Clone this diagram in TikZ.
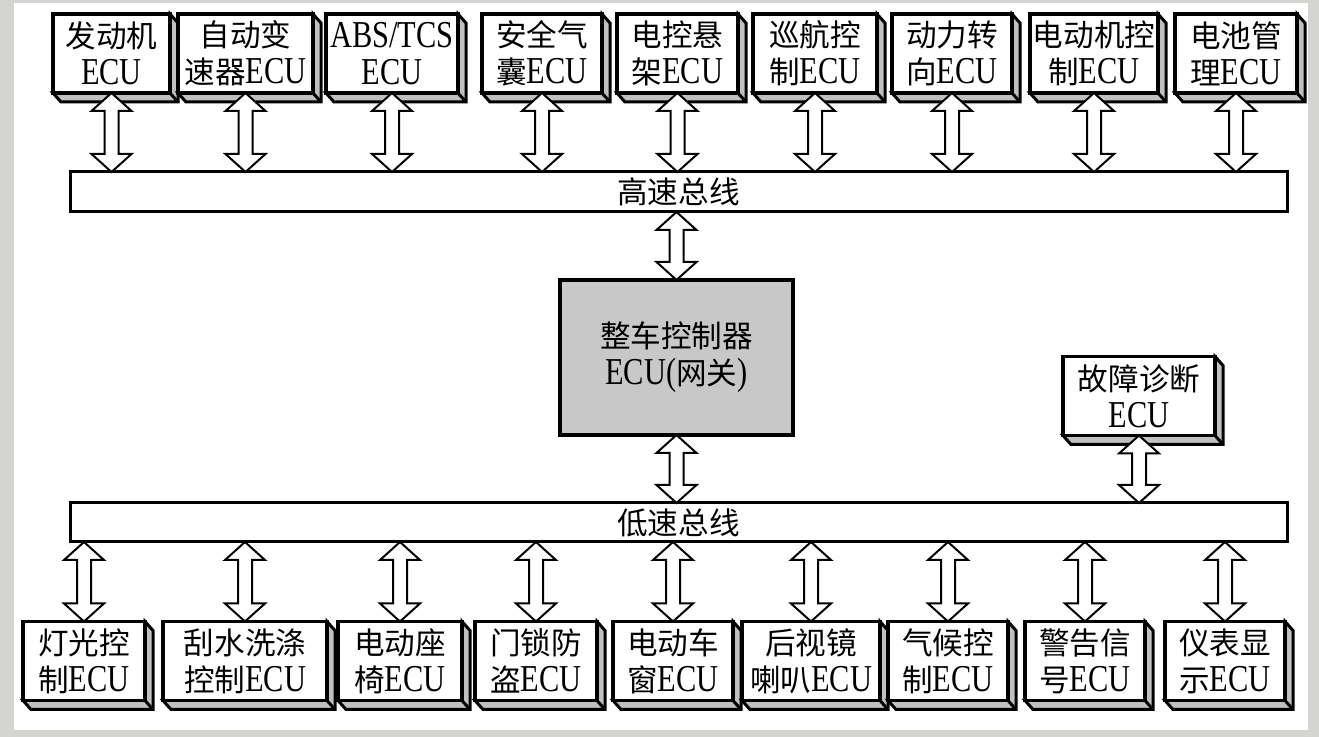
\documentclass[tikz,border=0pt]{standalone}
\usepackage{fontspec}
\setmainfont{Liberation Serif}[FakeStretch=0.8]
\newfontfamily\cjkfont{Noto Sans CJK SC}[Scale=0.805]
\newcommand\zh[1]{{\cjkfont #1}}
\usetikzlibrary{calc}
\pgfdeclarelayer{framelayer}
\pgfdeclarelayer{extlayer}
\pgfsetlayers{framelayer,extlayer,main}
\definecolor{framegray}{RGB}{212,212,208}
\definecolor{sidegray}{RGB}{192,192,192}
\definecolor{ecugray}{RGB}{200,200,200}
\tikzset{
 ecubox/.style={draw, line width=1.7pt, fill=white, inner sep=0pt, outer sep=0pt, align=center,
   font=\fontsize{19pt}{18.5pt}\selectfont, minimum height=39.5pt},
 busbox/.style={draw, line width=1.5pt, fill=white, inner sep=0pt, outer sep=0pt,
   minimum width=608.5pt, minimum height=20pt, font=\fontsize{19pt}{18.5pt}\selectfont},
 gateway/.style={ecubox, fill=ecugray, line width=2pt, minimum width=116.5pt, minimum height=77.5pt},
 extr/.style={fill=sidegray, draw, line width=1.5pt, line join=miter},
 barrow/.style={draw, fill=white, line width=1pt, line join=miter},
}
\newcommand\dbar[2]{%
  \draw[barrow] let \p1=(#1), \p2=(#2) in
  (\x1,\y1) -- (\x1+10pt,\y1-9pt) -- (\x1+3.5pt,\y1-9pt) -- (\x1+3.5pt,\y2+9pt)
  -- (\x1+10pt,\y2+9pt) -- (\x1,\y2) -- (\x1-10pt,\y2+9pt) -- (\x1-3.5pt,\y2+9pt)
  -- (\x1-3.5pt,\y1-9pt) -- (\x1-10pt,\y1-9pt) -- cycle;}
\begin{document}
\begin{tikzpicture}[x=0.5pt,y=-0.5pt]
\useasboundingbox (0,0) rectangle (1319,737);
\begin{pgfonlayer}{framelayer}
  \fill[framegray] (0,0) rectangle (1319,737);
  \fill[white] (14,3) rectangle (1308,730);
\end{pgfonlayer}
% top row ECUs
\foreach \n/\c/\w/\txt in {
  t1/111.5/117/{\zh{发动机}\\ECU},
  t2/245.5/135/{\zh{自动变}\\\zh{速器}ECU},
  t3/392/132/{ABS/TCS\\ECU},
  t4/542/120/{\zh{安全气}\\\zh{囊}ECU},
  t5/677.5/121/{\zh{电控悬}\\\zh{架}ECU},
  t6/815/124/{\zh{巡航控}\\\zh{制}ECU},
  t7/952/120/{\zh{动力转}\\\zh{向}ECU},
  t8/1094/128/{\zh{电动机控}\\\zh{制}ECU},
  t9/1236/122/{\zh{电池管}\\\zh{理}ECU}}
  {\node[ecubox, minimum width=\w*0.5pt] (\n) at (\c,53.5) {\txt};}
% bottom row ECUs
\foreach \n/\c/\w/\txt in {
  b1/84/122/{\zh{灯光控}\\\zh{制}ECU},
  b2/245/164/{\zh{刮水洗涤}\\\zh{控制}ECU},
  b3/400/124/{\zh{电动座}\\\zh{椅}ECU},
  b4/536/122/{\zh{门锁防}\\\zh{盗}ECU},
  b5/673/120/{\zh{电动车}\\\zh{窗}ECU},
  b6/811/138/{\zh{后视镜}\\\zh{喇叭}ECU},
  b7/948/120/{\zh{气候控}\\\zh{制}ECU},
  b8/1085/120/{\zh{警告信}\\\zh{号}ECU},
  b9/1225/120/{\zh{仪表显}\\\zh{示}ECU}}
  {\node[ecubox, minimum width=\w*0.5pt] (\n) at (\c,661) {\txt};}
% fault diagnosis
\node[ecubox, minimum width=76pt] (fd) at (1139,396) {\zh{故障诊断}\\ECU};
% gateway
\node[gateway] (gw) at (676.5,357.5) {\zh{整车控制器}\\ECU(\zh{网关})};
% buses
\node[busbox] (hb) at (678.5,192) {\zh{高速总线}};
\node[busbox, minimum height=19.5pt] (lb) at (678.5,522.5) {\zh{低速总线}};
% 3D sides
\begin{pgfonlayer}{extlayer}
\foreach \n in {t1,t2,t3,t4,t5,t6,t7,t8,t9,b1,b2,b3,b4,b5,b6,b7,b8,b9,fd}{
  \filldraw[extr] (\n.north east) -- ++(8,9) -- ($(\n.south east)+(8,9)$)
     -- ($(\n.south west)+(8,9)$) -- (\n.south west) -- (\n.south east) -- cycle;
  \draw[extr, fill=none] (\n.south east) -- ++(8,9);
}
\end{pgfonlayer}
% connectors
\foreach \i in {1,...,9}{
  \dbar{t\i.south}{t\i.south |- hb.north}
  \dbar{b\i.north |- lb.south}{b\i.north}
}
\dbar{gw.north |- hb.south}{gw.north}
\dbar{gw.south}{gw.south |- lb.north}
\dbar{fd.south}{fd.south |- lb.north}
\end{tikzpicture}
\end{document}
